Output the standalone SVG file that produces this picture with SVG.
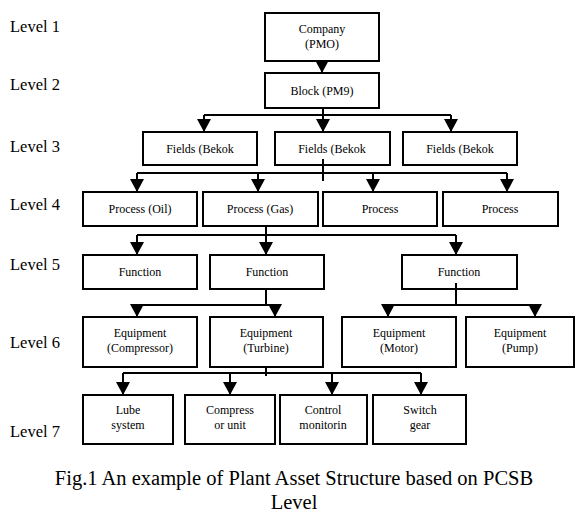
<svg xmlns="http://www.w3.org/2000/svg" width="576" height="515" viewBox="0 0 576 515">
<style>
.box{fill:#fff;stroke:#000;stroke-width:2}
.t{font-family:'Liberation Serif','Tinos','Times New Roman','Nimbus Roman','DejaVu Serif',serif;font-size:12px;text-anchor:middle;fill:#000}
.lv{font-family:'Liberation Serif','Tinos','Times New Roman','Nimbus Roman','DejaVu Serif',serif;font-size:16.5px;fill:#000}
.cap{font-family:'Liberation Serif','Tinos','Times New Roman','Nimbus Roman','DejaVu Serif',serif;font-size:20.5px;text-anchor:middle;fill:#000}
.c{fill:none;stroke:#000;stroke-width:2}
</style>
<defs>
<marker id="ah" markerUnits="userSpaceOnUse" markerWidth="14" markerHeight="14" refX="13" refY="7" orient="auto" viewBox="0 0 14 14">
<path d="M0,0 L13,7 L0,14 z" fill="#000"/>
</marker>
</defs>
<rect width="576" height="515" fill="#fff"/>
<g id="levels">
<text class="lv" x="10" y="32">Level 1</text>
<text class="lv" x="10" y="90">Level 2</text>
<text class="lv" x="10" y="152">Level 3</text>
<text class="lv" x="10" y="210">Level 4</text>
<text class="lv" x="10" y="270">Level 5</text>
<text class="lv" x="10" y="348">Level 6</text>
<text class="lv" x="10" y="437">Level 7</text>
</g>
<g id="connectors">
<path class="c" d="M322,61 V73" marker-end="url(#ah)"/>
<path class="c" d="M323,108 V115 M204,115 H451"/>
<path class="c" d="M204,115 V132" marker-end="url(#ah)"/>
<path class="c" d="M323,115 V132" marker-end="url(#ah)"/>
<path class="c" d="M451,115 V132" marker-end="url(#ah)"/>
<path class="c" d="M323,159 V181 M137,173 H507"/>
<path class="c" d="M137,173 V192" marker-end="url(#ah)"/>
<path class="c" d="M258,173 V192" marker-end="url(#ah)"/>
<path class="c" d="M373,173 V192" marker-end="url(#ah)"/>
<path class="c" d="M507,173 V192" marker-end="url(#ah)"/>
<path class="c" d="M266,226 V235 M137,235 H456"/>
<path class="c" d="M137,235 V255" marker-end="url(#ah)"/>
<path class="c" d="M266,235 V255" marker-end="url(#ah)"/>
<path class="c" d="M456,235 V255" marker-end="url(#ah)"/>
<path class="c" d="M266,289 V306 M137,305 H275"/>
<path class="c" d="M137,305 V317" marker-end="url(#ah)"/>
<path class="c" d="M275,305 V317" marker-end="url(#ah)"/>
<path class="c" d="M456,287 V306 M388,305 H535"/>
<path class="c" d="M388,305 V317" marker-end="url(#ah)"/>
<path class="c" d="M535,305 V317" marker-end="url(#ah)"/>
<path class="c" d="M266,367 V376 M123,373 H421"/>
<path class="c" d="M123,373 V395" marker-end="url(#ah)"/>
<path class="c" d="M230,373 V395" marker-end="url(#ah)"/>
<path class="c" d="M332,373 V395" marker-end="url(#ah)"/>
<path class="c" d="M421,373 V395" marker-end="url(#ah)"/>
</g>
<g id="company"><rect class="box" x="265" y="13" width="114" height="48"/><text class="t" x="322" y="33">Company</text><text class="t" x="322" y="48">(PMO)</text></g>
<g id="block"><rect class="box" x="265" y="73" width="114" height="35"/><text class="t" x="322" y="95">Block (PM9)</text></g>
<g id="fields1"><rect class="box" x="143" y="132" width="114" height="33"/><text class="t" x="200" y="153">Fields (Bekok</text></g>
<g id="fields2"><rect class="box" x="275" y="132" width="115" height="33"/><text class="t" x="332" y="153">Fields (Bekok</text></g>
<g id="fields3"><rect class="box" x="403" y="132" width="114" height="33"/><text class="t" x="460" y="153">Fields (Bekok</text></g>
<path class="c" d="M323,159 V165"/>
<g id="process-oil"><rect class="box" x="83" y="192" width="114" height="34"/><text class="t" x="140" y="213">Process (Oil)</text></g>
<g id="process-gas"><rect class="box" x="203" y="192" width="115" height="34"/><text class="t" x="260" y="213">Process (Gas)</text></g>
<g id="process3"><rect class="box" x="323" y="192" width="114" height="34"/><text class="t" x="380" y="213">Process</text></g>
<g id="process4"><rect class="box" x="443" y="192" width="115" height="34"/><text class="t" x="500" y="213">Process</text></g>
<g id="function1"><rect class="box" x="83" y="255" width="114" height="34"/><text class="t" x="140" y="276">Function</text></g>
<g id="function2"><rect class="box" x="210" y="255" width="114" height="34"/><text class="t" x="267" y="276">Function</text></g>
<g id="function3"><rect class="box" x="402" y="255" width="115" height="34"/><text class="t" x="459" y="276">Function</text></g>
<path class="c" d="M456,283 V289"/>
<g id="eq-compressor"><rect class="box" x="83" y="317" width="114" height="50"/><text class="t" x="140" y="337">Equipment</text><text class="t" x="140" y="352">(Compressor)</text></g>
<g id="eq-turbine"><rect class="box" x="210" y="317" width="113" height="50"/><text class="t" x="266" y="337">Equipment</text><text class="t" x="266" y="352">(Turbine)</text></g>
<g id="eq-motor"><rect class="box" x="342" y="317" width="114" height="50"/><text class="t" x="399" y="337">Equipment</text><text class="t" x="399" y="352">(Motor)</text></g>
<g id="eq-pump"><rect class="box" x="466" y="317" width="108" height="50"/><text class="t" x="520" y="337">Equipment</text><text class="t" x="520" y="352">(Pump)</text></g>
<g id="lube"><rect class="box" x="83" y="395" width="90" height="49"/><text class="t" x="128" y="414">Lube</text><text class="t" x="128" y="429">system</text></g>
<g id="compressor-unit"><rect class="box" x="185" y="395" width="90" height="49"/><text class="t" x="230" y="414">Compress</text><text class="t" x="230" y="429">or unit</text></g>
<g id="control"><rect class="box" x="280" y="395" width="87" height="49"/><text class="t" x="323" y="414">Control</text><text class="t" x="323" y="429">monitorin</text></g>
<g id="switch"><rect class="box" x="373" y="395" width="93" height="49"/><text class="t" x="420" y="414">Switch</text><text class="t" x="420" y="429">gear</text></g>
<g id="caption">
<text class="cap" x="294" y="485">Fig.1 An example of Plant Asset Structure based on PCSB</text>
<text class="cap" x="294" y="509">Level</text>
</g>
</svg>
